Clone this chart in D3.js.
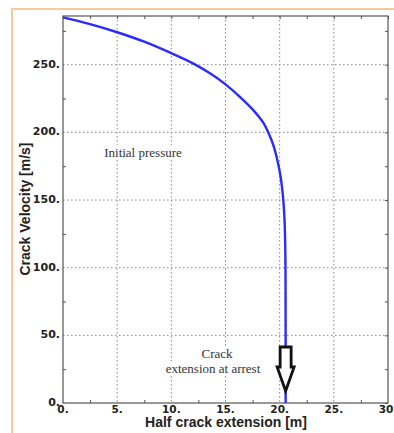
<!DOCTYPE html>
<html>
<head>
<meta charset="utf-8">
<script src="https://cdn.jsdelivr.net/npm/d3@7"></script>
<style>
  html, body { margin: 0; padding: 0; background: #fff; }
  svg { display: block; }
</style>
</head>
<body>
<svg id="chart" width="394" height="433"></svg>
<script>
// Half crack extension [m] and the crack velocity [m/s] along the run to arrest
const crackExt = [0, 2.5, 5, 7.5, 10, 12, 13.6, 15, 16.3, 17.5, 18.5, 19.0, 19.4, 19.8, 20.1, 20.3, 20.42, 20.5, 20.54, 20.55];
const velocity = [285, 280, 274, 267, 258.5, 251, 243.5, 235.5, 226.5, 217, 207, 199, 191, 179, 166.5, 153, 140, 122, 95, 0];

const xTicks = [0, 5, 10, 15, 20, 25, 30];
const yTicks = [0, 50, 100, 150, 200, 250];
const xMinor = [2.5, 7.5, 12.5, 17.5, 22.5, 27.5];
const yMinor = [25, 75, 125, 175, 225, 275];
const arrestExt = 20.55;

(function () {
  const svg = d3.select("#chart");
  const W = 394, H = 433;
  const plot = { left: 63, right: 388, top: 16, bottom: 403 };

  // outer page frame
  svg.append("rect")
    .attr("x", 12).attr("y", 9)
    .attr("width", W + 10).attr("height", H + 10)
    .attr("fill", "none")
    .attr("stroke", "#f9c89a")
    .attr("stroke-width", 2);

  const x = d3.scaleLinear().domain([0, 30]).range([plot.left, plot.right]);
  const y = d3.scaleLinear().domain([0, 286]).range([plot.bottom, plot.top]);

  // dotted grid
  const grid = svg.append("g").attr("stroke", "#8a8a8a").attr("stroke-width", 1)
    .attr("stroke-dasharray", "1.5,2.5");
  grid.selectAll(".vg").data(xTicks.slice(1, -1)).join("line")
    .attr("x1", d => x(d)).attr("x2", d => x(d))
    .attr("y1", plot.top).attr("y2", plot.bottom);
  grid.selectAll(".hg").data(yTicks.slice(1)).join("line")
    .attr("x1", plot.left).attr("x2", plot.right)
    .attr("y1", d => y(d)).attr("y2", d => y(d));

  // frame axes with inward ticks
  const tickCol = "#555";
  const axB = svg.append("g").attr("transform", `translate(0,${plot.bottom})`)
    .call(d3.axisBottom(x).tickValues(xMinor).tickSize(-3).tickFormat(""));
  const axT = svg.append("g").attr("transform", `translate(0,${plot.top})`)
    .call(d3.axisTop(x).tickValues(xTicks.concat(xMinor)).tickSize(-3).tickFormat(""));
  const axL = svg.append("g").attr("transform", `translate(${plot.left},0)`)
    .call(d3.axisLeft(y).tickValues(yMinor).tickSize(-3).tickFormat(""));
  const axR = svg.append("g").attr("transform", `translate(${plot.right},0)`)
    .call(d3.axisRight(y).tickValues(yTicks.concat(yMinor)).tickSize(-3).tickFormat(""));
  [axB, axT, axL, axR].forEach(g => {
    g.select(".domain").remove();
    g.selectAll("line").attr("stroke", tickCol);
  });

  svg.append("rect")
    .attr("x", plot.left).attr("y", plot.top)
    .attr("width", plot.right - plot.left).attr("height", plot.bottom - plot.top)
    .attr("fill", "none").attr("stroke", "#555").attr("stroke-width", 1.2);

  // tick labels
  const tickFont = "'DejaVu Sans', sans-serif";
  svg.append("g").selectAll("text").data(xTicks).join("text")
    .attr("x", d => x(d)).attr("y", plot.bottom + 10)
    .attr("text-anchor", "middle")
    .attr("font-family", tickFont).attr("font-weight", "bold").attr("font-size", 10.5)
    .attr("fill", "#222")
    .text(d => d + ".");
  svg.append("g").selectAll("text").data(yTicks).join("text")
    .attr("x", plot.left - 3).attr("y", d => y(d) + 3)
    .attr("text-anchor", "end")
    .attr("font-family", tickFont).attr("font-weight", "bold").attr("font-size", 11)
    .attr("fill", "#222")
    .text(d => d + ".");

  // axis titles
  svg.append("text")
    .attr("x", 226).attr("y", 427)
    .attr("text-anchor", "middle")
    .attr("font-family", "'Liberation Sans', Arial, sans-serif")
    .attr("font-weight", "bold").attr("font-size", 14).attr("fill", "#222")
    .text("Half crack extension [m]");
  svg.append("text")
    .attr("transform", "translate(30,209) rotate(-90)")
    .attr("text-anchor", "middle")
    .attr("font-family", "'Liberation Sans', Arial, sans-serif")
    .attr("font-weight", "bold").attr("font-size", 14).attr("fill", "#222")
    .text("Crack Velocity [m/s]");

  // annotations
  const serif = "'Liberation Serif', 'Times New Roman', serif";
  const notes = [
    { t: "Initial pressure", cx: 143, by: 157 },
    { t: "Crack", cx: 217, by: 358 },
    { t: "extension at arrest", cx: 213, by: 373 }
  ];
  const noteG = svg.append("g");
  notes.forEach(n => {
    const txt = noteG.append("text")
      .attr("x", n.cx).attr("y", n.by)
      .attr("text-anchor", "middle")
      .attr("font-family", serif).attr("font-size", 13)
      .attr("fill", "#333")
      .text(n.t);
    const bb = txt.node().getBBox();
    noteG.insert("rect", "text")
      .attr("x", bb.x - 2).attr("y", bb.y)
      .attr("width", bb.width + 4).attr("height", bb.height)
      .attr("fill", "#fff");
  });

  // velocity curve
  const line = d3.line()
    .x((d, i) => x(crackExt[i]))
    .y(d => y(d))
    .curve(d3.curveCatmullRom.alpha(0.5));
  svg.append("path")
    .datum(velocity)
    .attr("d", line)
    .attr("fill", "none")
    .attr("stroke", "#2b2bff")
    .attr("stroke-width", 2.4);

  // hollow arrow pointing at the arrest point
  const ax = x(arrestExt);
  const shaftW = 5.5, headW = 8.5, shaftTop = 347, neck = 367, tip = 391;
  const arrowPts = [
    [ax - shaftW, shaftTop], [ax + shaftW, shaftTop], [ax + shaftW, neck], [ax + headW, neck],
    [ax, tip], [ax - headW, neck], [ax - shaftW, neck]
  ];
  svg.append("path")
    .attr("d", d3.line()(arrowPts) + "Z")
    .attr("fill", "#fff")
    .attr("stroke", "#111")
    .attr("stroke-width", 2.8)
    .attr("stroke-linejoin", "miter");
})();
</script>
</body>
</html>
